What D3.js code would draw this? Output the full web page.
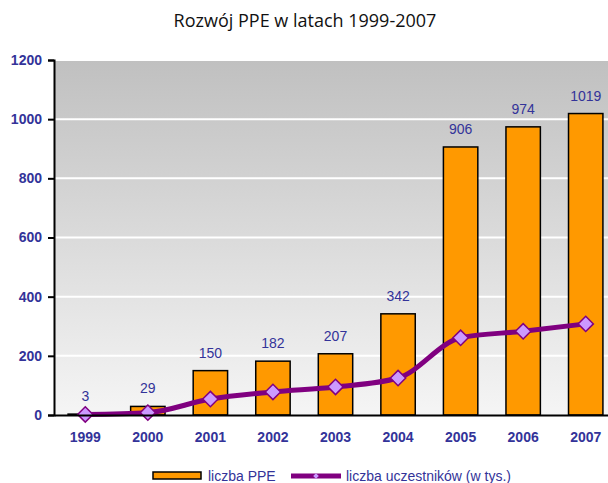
<!DOCTYPE html>
<html>
<head>
<meta charset="utf-8">
<script src="https://cdn.jsdelivr.net/npm/d3@7"></script>
<style>
  body { margin: 0; background: #fff; }
  svg { display: block; }
</style>
</head>
<body>
<svg id="chart" width="608" height="483"></svg>
<script>
// chart data
var years = ['1999', '2000', '2001', '2002', '2003', '2004', '2005', '2006', '2007'];
var plans = [3, 29, 150, 182, 207, 342, 906, 974, 1019];
var members = [2, 8, 54, 78, 95, 125, 261, 283, 308];
var yTicks = [0, 200, 400, 600, 800, 1000, 1200];

var svg = d3.select('#chart');
var blue = '#333399';
var plotLeft = 54, plotRight = 617, plotTop = 60, plotBottom = 415;

var x = d3.scaleBand().domain(years).range([plotLeft, plotRight]).paddingInner(0.45).paddingOuter(0.225);
var y = d3.scaleLinear().domain([0, 1200]).range([plotBottom, plotTop]);

// background gradient
var grad = svg.append('defs').append('linearGradient')
    .attr('id', 'bg').attr('x1', 0).attr('x2', 0).attr('y1', 0).attr('y2', 1);
grad.append('stop').attr('offset', '0%').attr('stop-color', '#c0c0c0');
grad.append('stop').attr('offset', '100%').attr('stop-color', '#f5f5f5');

svg.append('rect')
    .attr('x', plotLeft).attr('y', plotTop)
    .attr('width', plotRight - plotLeft).attr('height', plotBottom - plotTop)
    .attr('fill', 'url(#bg)');

// gridlines
svg.append('g').selectAll('line')
    .data(yTicks.slice(1))
    .join('line')
    .attr('x1', plotLeft).attr('x2', plotRight)
    .attr('y1', function (d) { return y(d); })
    .attr('y2', function (d) { return y(d); })
    .attr('stroke', '#fff').attr('stroke-width', 2);

// title
svg.append('text')
    .attr('x', 305).attr('y', 27)
    .attr('text-anchor', 'middle')
    .style('font-family', 'Open Sans, sans-serif')
    .style('font-size', '18px')
    .attr('fill', '#111')
    .text('Rozwój PPE w latach 1999-2007');

// bars
svg.append('g').selectAll('rect')
    .data(plans)
    .join('rect')
    .attr('x', function (d, i) { return x(years[i]); })
    .attr('y', function (d) { return y(d); })
    .attr('width', x.bandwidth())
    .attr('height', function (d) { return plotBottom - y(d); })
    .attr('fill', '#ff9900')
    .attr('stroke', '#000').attr('stroke-width', 1.5);

// bar value labels
svg.append('g').selectAll('text')
    .data(plans)
    .join('text')
    .attr('x', function (d, i) { return x(years[i]) + x.bandwidth() / 2; })
    .attr('y', function (d) { return y(d) - 13; })
    .attr('text-anchor', 'middle')
    .style('font-family', 'Liberation Sans, Arial, sans-serif')
    .style('font-size', '14px')
    .attr('fill', blue)
    .text(function (d) { return d; });

// member line
var line = d3.line()
    .x(function (d, i) { return x(years[i]) + x.bandwidth() / 2; })
    .y(function (d) { return y(d); })
    .curve(d3.curveMonotoneX);

svg.append('path')
    .datum(members)
    .attr('d', line)
    .attr('fill', 'none')
    .attr('stroke', '#800080')
    .attr('stroke-width', 5);

svg.append('g').selectAll('path')
    .data(members)
    .join('path')
    .attr('d', d3.symbol().type(d3.symbolDiamond2).size(150))
    .attr('transform', function (d, i) {
        return 'translate(' + (x(years[i]) + x.bandwidth() / 2) + ',' + y(d) + ')';
    })
    .attr('fill', '#cc99ff')
    .attr('stroke', '#800080').attr('stroke-width', 1.5);

// axes
var yAxis = svg.append('g')
    .attr('transform', 'translate(' + plotLeft + ',0)')
    .call(d3.axisLeft(y).tickValues(yTicks).tickSize(6).tickPadding(6).tickFormat(d3.format('d')));
yAxis.select('.domain').attr('stroke', '#000').attr('stroke-width', 2);
yAxis.selectAll('.tick line').attr('stroke', '#000').attr('stroke-width', 2);
yAxis.selectAll('.tick text')
    .style('font-family', 'Liberation Sans, Arial, sans-serif')
    .style('font-size', '14px').style('font-weight', 'bold')
    .attr('fill', blue);

var xAxis = svg.append('g')
    .attr('transform', 'translate(0,' + plotBottom + ')')
    .call(d3.axisBottom(x).tickSize(0).tickPadding(17));
xAxis.select('.domain').attr('stroke', '#000').attr('stroke-width', 2);
xAxis.selectAll('.tick text')
    .style('font-family', 'Liberation Sans, Arial, sans-serif')
    .style('font-size', '14px').style('font-weight', 'bold')
    .attr('fill', blue);

// legend
var legend = svg.append('g').attr('transform', 'translate(0,476)');
legend.append('rect')
    .attr('x', 153).attr('y', -4).attr('width', 48).attr('height', 7)
    .attr('fill', '#ff9900').attr('stroke', '#000').attr('stroke-width', 1.5);
legend.append('text')
    .attr('x', 208).attr('y', 5)
    .style('font-family', 'Liberation Sans, Arial, sans-serif')
    .style('font-size', '14px').attr('fill', blue)
    .text('liczba PPE');
legend.append('line')
    .attr('x1', 291).attr('x2', 341).attr('y1', 0).attr('y2', 0)
    .attr('stroke', '#800080').attr('stroke-width', 5);
legend.append('path')
    .attr('d', d3.symbol().type(d3.symbolDiamond2).size(20))
    .attr('transform', 'translate(316,0)')
    .attr('fill', '#cc99ff');
legend.append('text')
    .attr('x', 346).attr('y', 5)
    .style('font-family', 'Liberation Sans, Arial, sans-serif')
    .style('font-size', '14px').attr('fill', blue)
    .text('liczba uczestników (w tys.)');
</script>
</body>
</html>
